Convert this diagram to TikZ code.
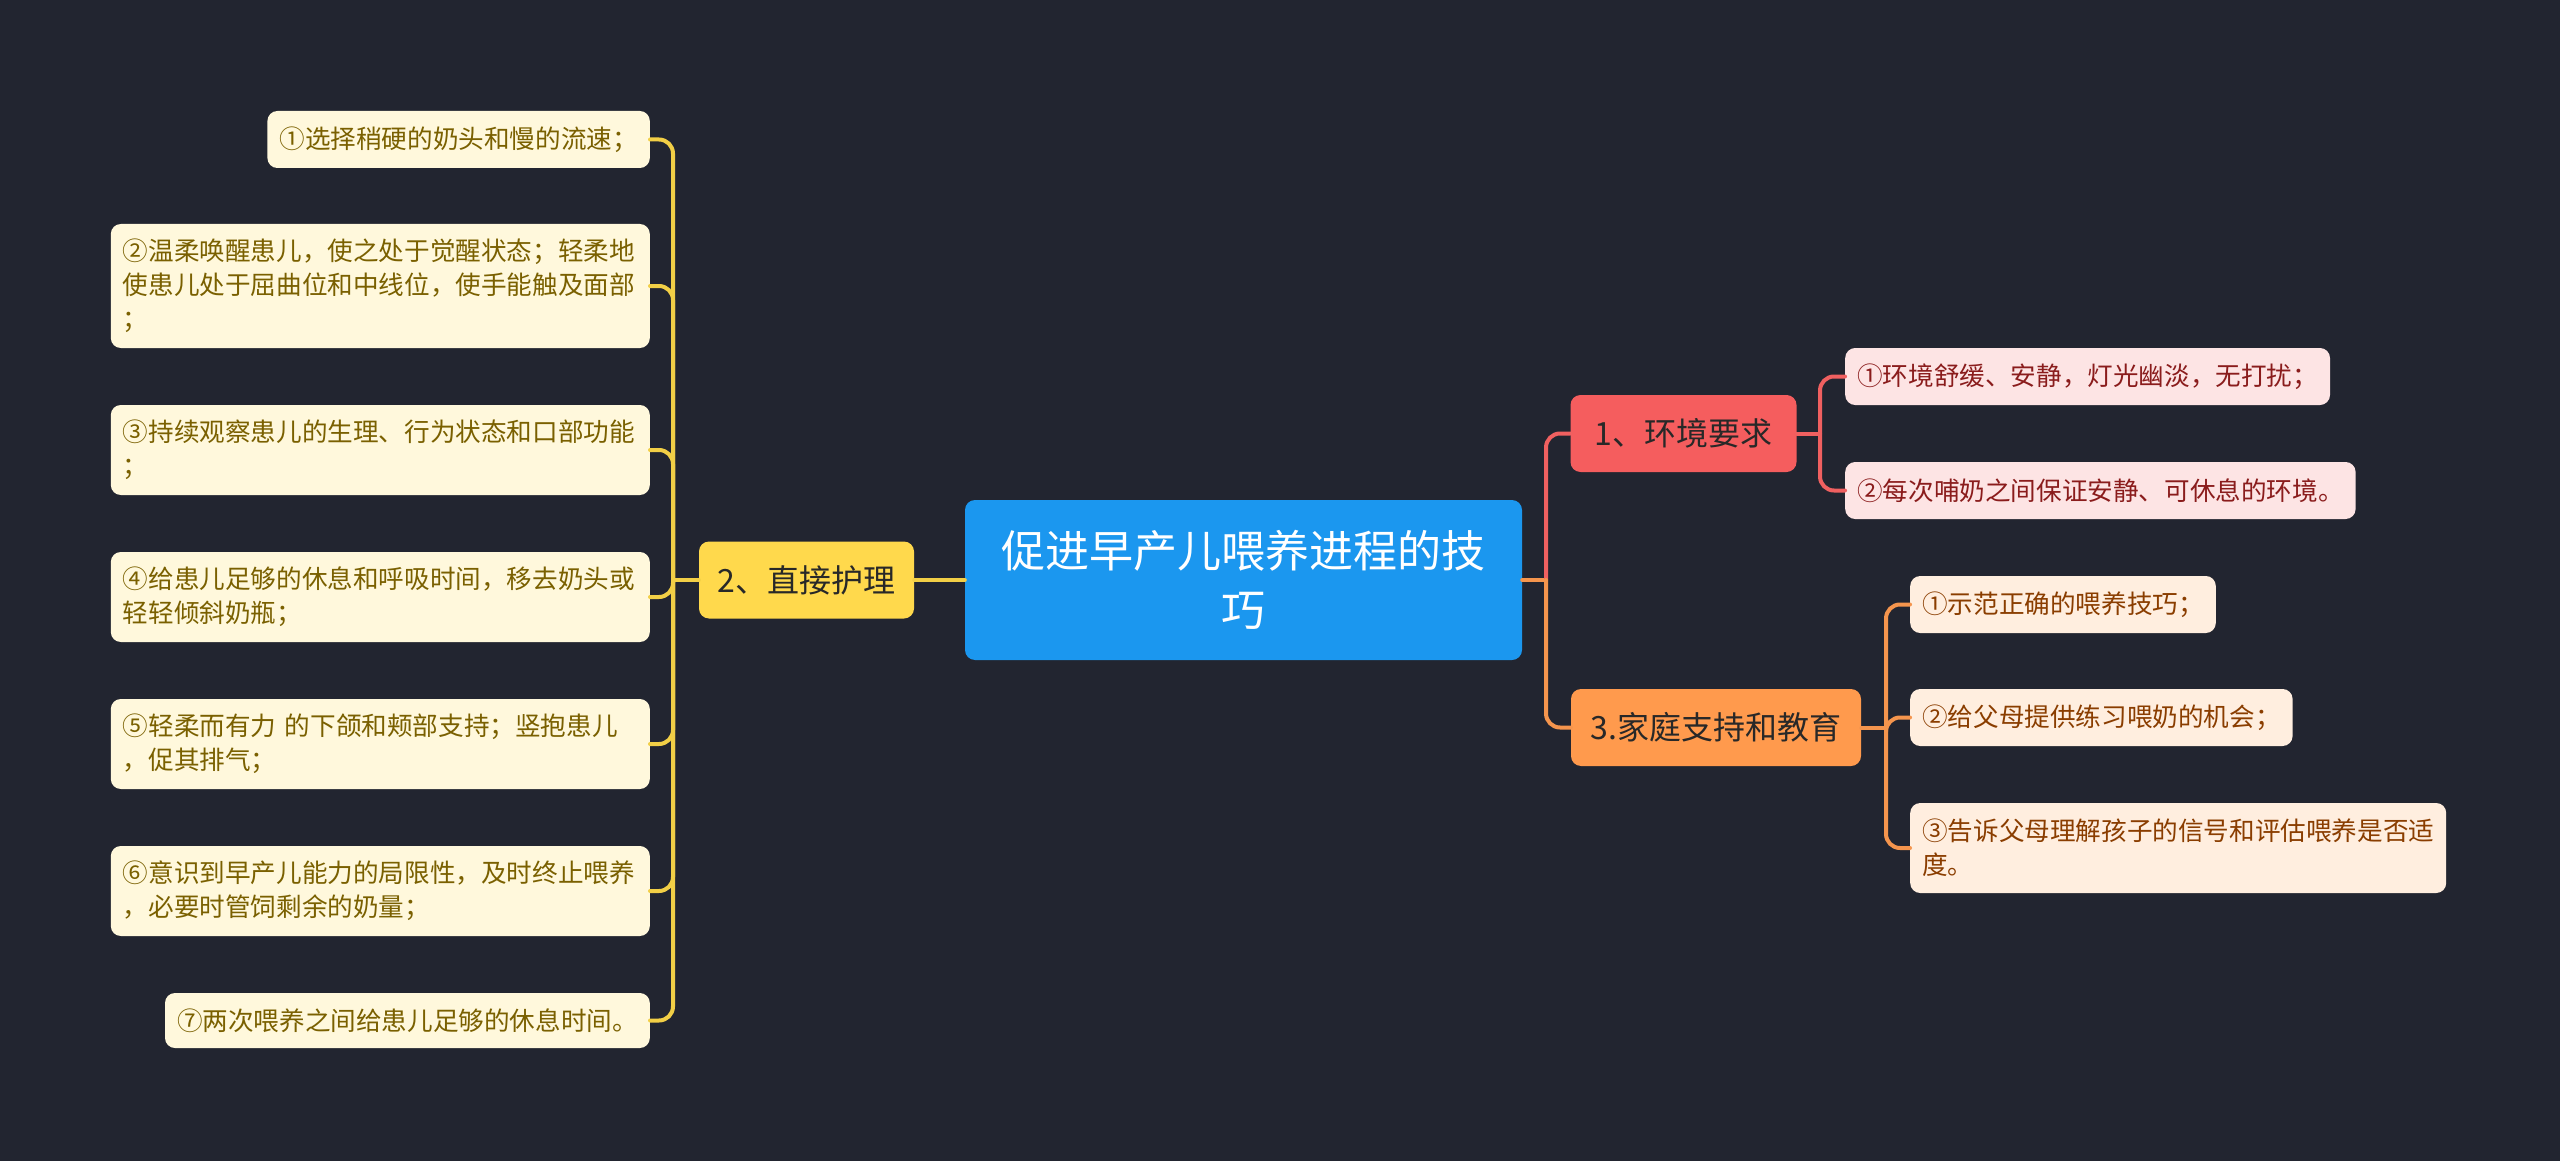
\documentclass[tikz,border=0pt]{standalone}
\usepackage{fontspec}
\newfontfamily\cjk{Noto Sans CJK SC}
\definecolor{bgcol}{RGB}{34,37,48}
\definecolor{rootcol}{RGB}{27,151,239}
\definecolor{ycol}{RGB}{255,217,76}
\definecolor{yleafcol}{RGB}{255,248,220}
\definecolor{ytext}{RGB}{122,96,0}
\definecolor{ylinecol}{RGB}{242,207,70}
\definecolor{rcol}{RGB}{245,93,94}
\definecolor{rleafcol}{RGB}{253,228,228}
\definecolor{rtext}{RGB}{138,28,28}
\definecolor{rlinecol}{RGB}{240,96,96}
\definecolor{ocol}{RGB}{255,154,77}
\definecolor{oleafcol}{RGB}{255,238,223}
\definecolor{otext}{RGB}{138,61,0}
\definecolor{olinecol}{RGB}{245,149,77}
\definecolor{btext}{RGB}{40,40,40}
\begin{document}
\begin{tikzpicture}[x=1pt, y=-1pt, line join=round, line cap=round,
	leaf/.style={rounded corners=10pt, inner xsep=12pt, inner ysep=0pt, align=left, font=\cjk\fontsize{25.6}{34}\selectfont},
	yleaf/.style={leaf, fill=yleafcol, text=ytext},
	wideleaf/.style={yleaf, text width=515pt},
	rleaf/.style={leaf, fill=rleafcol, text=rtext},
	oleaf/.style={leaf, fill=oleafcol, text=otext},
	branch/.style={rounded corners=10pt, inner sep=0pt, minimum height=77pt, text=btext, font=\cjk\fontsize{32}{40}\selectfont},
	yline/.style={draw=ylinecol, line width=4pt, rounded corners=14pt},
	rline/.style={draw=rlinecol, line width=4pt, rounded corners=14pt},
	oline/.style={draw=olinecol, line width=4pt, rounded corners=14pt}]
	\fill[bgcol] (0,0) rectangle (2560,1161);
	\useasboundingbox (0,0) rectangle (2560,1161);
	% root and branches
	\node[rounded corners=10pt, fill=rootcol, text=white, align=center, minimum width=557pt, minimum height=160pt, font=\cjk\fontsize{44}{59}\selectfont] (root) at (1243.5,580) {促进早产儿喂养进程的技\\巧};
	\node[branch, fill=ycol, minimum width=215pt] (b2) at (806.5,580) {2、直接护理};
	\node[branch, fill=rcol, minimum width=226pt] (b1) at (1683.5,433.5) {1、环境要求};
	\node[branch, fill=ocol, minimum width=290pt] (b3) at (1716,727.5) {3.家庭支持和教育};
	% left leaves
	\node[yleaf, anchor=east, minimum height=57pt] (l1) at (650,139.5) {①选择稍硬的奶头和慢的流速；};
	\node[wideleaf, anchor=east, minimum height=124pt] (l2) at (650,286) {②温柔唤醒患儿，使之处于觉醒状态；轻柔地\\使患儿处于屈曲位和中线位，使手能触及面部\\；};
	\node[wideleaf, anchor=east, minimum height=90pt] (l3) at (650,450) {③持续观察患儿的生理、行为状态和口部功能\\；};
	\node[wideleaf, anchor=east, minimum height=90pt] (l4) at (650,597) {④给患儿足够的休息和呼吸时间，移去奶头或\\轻轻倾斜奶瓶；};
	\node[wideleaf, anchor=east, minimum height=90pt] (l5) at (650,744) {⑤轻柔而有力 的下颌和颊部支持；竖抱患儿\\，促其排气；};
	\node[wideleaf, anchor=east, minimum height=90pt] (l6) at (650,891) {⑥意识到早产儿能力的局限性，及时终止喂养\\，必要时管饲剩余的奶量；};
	\node[yleaf, anchor=east, minimum height=55pt] (l7) at (650,1020.5) {⑦两次喂养之间给患儿足够的休息时间。};
	% right leaves
	\node[rleaf, anchor=west, minimum height=57pt] (r1a) at (1845,376.5) {①环境舒缓、安静，灯光幽淡，无打扰；};
	\node[rleaf, anchor=west, minimum height=57pt] (r1b) at (1845,490.5) {②每次哺奶之间保证安静、可休息的环境。};
	\node[oleaf, anchor=west, minimum height=57pt] (r3a) at (1910,604.5) {①示范正确的喂养技巧；};
	\node[oleaf, anchor=west, minimum height=57pt] (r3b) at (1910,717.5) {②给父母提供练习喂奶的机会；};
	\node[oleaf, anchor=west, minimum height=90pt] (r3c) at (1910,848) {③告诉父母理解孩子的信号和评估喂养是否适\\度。};
	% connectors
	\coordinate (t2) at (673,580);
	\coordinate (tr) at (1546,580);
	\coordinate (t1) at (1820,433.5);
	\coordinate (t3) at (1886,727.5);
	\draw[yline] (root.west) -- (b2.east);
	\draw[yline] (b2.west) -- (t2);
	\foreach \n in {l1,l2,l3,l4,l5,l6,l7} \draw[yline] (t2) |- (\n.east);
	\draw[oline] (root.east) -- (tr);
	\draw[rline] (tr) |- (b1.west);
	\draw[oline] (tr) |- (b3.west);
	\draw[rline] (b1.east) -- (t1);
	\foreach \n in {r1a,r1b} \draw[rline] (t1) |- (\n.west);
	\draw[oline] (b3.east) -- (t3);
	\foreach \n in {r3a,r3b,r3c} \draw[oline] (t3) |- (\n.west);
\end{tikzpicture}
\end{document}
